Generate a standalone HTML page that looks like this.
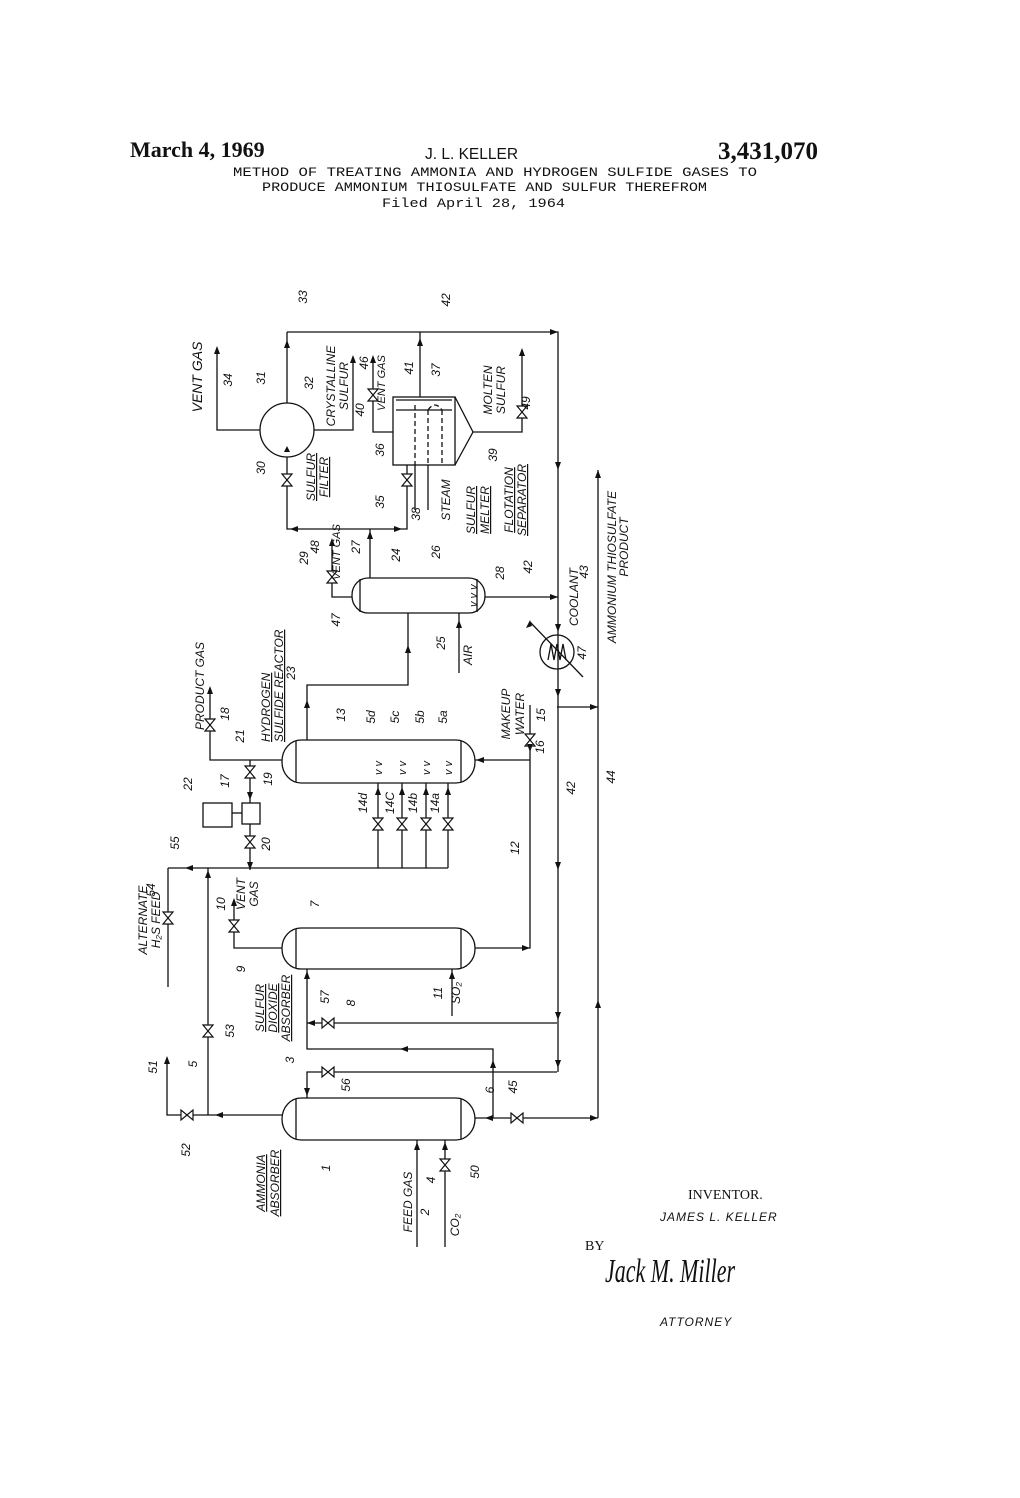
<!DOCTYPE html>
<html><head><meta charset="utf-8">
<style>
html,body{margin:0;padding:0;background:#fff;}
svg{display:block;}
.l{font-family:"Liberation Sans",sans-serif;font-style:italic;font-size:12px;fill:#111;}
.s{font-family:"Liberation Sans",sans-serif;font-style:italic;font-size:11px;fill:#111;}
.b{font-family:"Liberation Sans",sans-serif;font-style:italic;font-size:14px;fill:#111;}
.m{font-family:"Liberation Mono",monospace;font-size:12.5px;fill:#111;}
</style></head>
<body>
<svg width="1020" height="1498" viewBox="0 0 1020 1498" xmlns="http://www.w3.org/2000/svg">
<rect width="1020" height="1498" fill="#fff"/>
<text x="130" y="157" font-family="Liberation Serif,serif" font-weight="bold" font-size="22" fill="#111">March 4, 1969</text>
<text x="425" y="159" font-family="Liberation Sans,sans-serif" font-size="15.5" fill="#111">J. L. KELLER</text>
<text x="818" y="159" text-anchor="end" font-family="Liberation Serif,serif" font-weight="bold" font-size="25" fill="#111">3,431,070</text>
<text class="m" x="233" y="176" textLength="524" lengthAdjust="spacingAndGlyphs">METHOD OF TREATING AMMONIA AND HYDROGEN SULFIDE GASES TO</text>
<text class="m" x="262" y="191" textLength="445" lengthAdjust="spacingAndGlyphs">PRODUCE AMMONIUM THIOSULFATE AND SULFUR THEREFROM</text>
<text class="m" x="382" y="207" textLength="183" lengthAdjust="spacingAndGlyphs">Filed April 28, 1964</text>

<g fill="none" stroke="#111" stroke-width="1.3">
<path d="M287 332 H558 V1072"/>
<circle cx="287" cy="430" r="27"/>
<path d="M217 348 V430 H260"/>
<path d="M287 403 V332"/>
<path d="M287 457 V529 H407 V465"/>
<path d="M370 578 V529"/>
<path d="M314 430 H353 V357"/>
<rect x="393" y="397" width="62" height="68"/>
<path d="M455 397 L473 432 L455 465"/>
<path d="M393 432 H373 V357"/>
<path d="M420 397 V332"/>
<path d="M473 432 H522 V350"/>
<path d="M415 465 V510 M428 465 V510"/>
<path d="M415 405 V465 M428 410 V465 M442 410 V465 M428 410 Q435 400 442 410" stroke-dasharray="5 3"/>
<path d="M396 400 H452 M396 410 H452"/>
<rect x="352" y="578" width="133" height="35" rx="16" ry="17"/>
<path d="M360 579 V612 M477 579 V612"/>
<path d="M352 597 H332 V540"/>
<path d="M459 673 V613"/>
<path d="M485 597 H558"/>
<path d="M408 613 V685 H307 V740"/>
<circle cx="557" cy="652" r="17"/>
<path d="M530 622 L583 677"/>
<path d="M548 660 L551 644 L554 660 L557 644 L560 660 L563 644 L566 660"/>
<path d="M557 707 H598"/>
<path d="M598 1118 V470"/>
<path d="M475 1118 H598"/>
<rect x="282" y="740" width="193" height="43" rx="19" ry="21"/>
<path d="M296 741 V782 M461 741 V782"/>
<path d="M282 760 H210 V688"/>
<path d="M250 760 V803 M250 824 V870"/>
<rect x="242" y="803" width="18" height="21"/>
<rect x="203" y="803" width="29" height="24"/>
<path d="M232 813 H242"/>
<path d="M168 868 H448 M378 868 V783 M402 868 V783 M426 868 V783 M448 868 V783"/>
<path d="M168 868 V987"/>
<path d="M208 868 V1115"/>
<path d="M167 1058 V1115 H282"/>
<rect x="282" y="928" width="193" height="41" rx="19" ry="20"/>
<path d="M296 929 V968 M461 929 V968"/>
<path d="M282 948 H234 V900"/>
<path d="M475 948 H530 V705 M530 760 H475"/>
<path d="M452 1016 V969"/>
<path d="M557 1023 H307 M307 969 V1049 H493 V1118"/>
<path d="M557 1072 H307 V1098"/>
<rect x="282" y="1098" width="193" height="42" rx="19" ry="21"/>
<path d="M296 1099 V1139 M461 1099 V1139"/>
<path d="M417 1140 V1247 M445 1140 V1247"/>
</g>

<g fill="#fff" stroke="#111" stroke-width="1.2">
<path d="M282 474 H292 L282 486 H292 Z"/>
<path d="M402 474 H412 L402 486 H412 Z"/>
<path d="M368 389 H378 L368 401 H378 Z"/>
<path d="M517 406 H527 L517 418 H527 Z"/>
<path d="M327 571 H337 L327 583 H337 Z"/>
<path d="M205 719 H215 L205 731 H215 Z"/>
<path d="M245 766 H255 L245 778 H255 Z"/>
<path d="M245 836 H255 L245 848 H255 Z"/>
<path d="M373 818 H383 L373 830 H383 Z"/>
<path d="M397 818 H407 L397 830 H407 Z"/>
<path d="M421 818 H431 L421 830 H431 Z"/>
<path d="M443 818 H453 L443 830 H453 Z"/>
<path d="M525 734 H535 L525 746 H535 Z"/>
<path d="M229 920 H239 L229 932 H239 Z"/>
<path d="M163 912 H173 L163 924 H173 Z"/>
<path d="M203 1025 H213 L203 1037 H213 Z"/>
<path d="M440 1159 H450 L440 1171 H450 Z"/>
<path d="M322 1018 V1028 L334 1018 V1028 Z"/>
<path d="M322 1067 V1077 L334 1067 V1077 Z"/>
<path d="M511 1113 V1123 L523 1113 V1123 Z"/>
<path d="M181 1110 V1120 L193 1110 V1120 Z"/>
</g>

<g fill="#111">
<path d="M558 332 l-8 -3 v6 z"/>
<path d="M217 346 l-3 8 h6 z"/>
<path d="M287 340 l-3 8 h6 z"/>
<path d="M353 355 l-3 8 h6 z"/>
<path d="M373 355 l-3 8 h6 z"/>
<path d="M420 338 l-3 8 h6 z"/>
<path d="M522 348 l-3 8 h6 z"/>
<path d="M370 531 l-3 8 h6 z"/>
<path d="M287 446 l-3 6 h6 z"/>
<path d="M290 529 l8 -3 v6 z"/>
<path d="M402 529 l-8 -3 v6 z"/>
<path d="M332 538 l-3 8 h6 z"/>
<path d="M459 620 l-3 8 h6 z"/>
<path d="M408 645 l-3 8 h6 z"/>
<path d="M307 700 l-3 8 h6 z"/>
<path d="M558 597 l-8 -3 v6 z"/>
<path d="M558 470 l-3 -8 h6 z"/>
<path d="M558 632 l-3 -8 h6 z"/>
<path d="M558 697 l-3 -8 h6 z"/>
<path d="M558 870 l-3 -8 h6 z"/>
<path d="M558 1020 l-3 -8 h6 z"/>
<path d="M558 1068 l-3 -8 h6 z"/>
<path d="M530 620 l-4 8 l6 -2 z"/>
<path d="M598 707 l-8 -3 v6 z"/>
<path d="M598 470 l-3 8 h6 z"/>
<path d="M598 1000 l-3 8 h6 z"/>
<path d="M210 686 l-3 8 h6 z"/>
<path d="M250 800 l-3 -8 h6 z"/>
<path d="M250 870 l-3 -8 h6 z"/>
<path d="M378 787 l-3 8 h6 z"/>
<path d="M402 787 l-3 8 h6 z"/>
<path d="M426 787 l-3 8 h6 z"/>
<path d="M448 787 l-3 8 h6 z"/>
<path d="M208 870 l-3 8 h6 z"/>
<path d="M185 868 l8 -3 v6 z"/>
<path d="M167 1056 l-3 8 h6 z"/>
<path d="M215 1115 l8 -3 v6 z"/>
<path d="M234 898 l-3 8 h6 z"/>
<path d="M530 948 l-8 -3 v6 z"/>
<path d="M476 760 l8 -3 v6 z"/>
<path d="M530 752 l-3 -8 h6 z"/>
<path d="M452 971 l-3 8 h6 z"/>
<path d="M307 1023 l8 -3 v6 z"/>
<path d="M307 971 l-3 8 h6 z"/>
<path d="M400 1049 l8 -3 v6 z"/>
<path d="M493 1060 l-3 8 h6 z"/>
<path d="M307 1096 l-3 -8 h6 z"/>
<path d="M417 1142 l-3 8 h6 z"/>
<path d="M445 1142 l-3 8 h6 z"/>
<path d="M485 1118 l8 -3 v6 z"/>
<path d="M598 1118 l-8 -3 v6 z"/>
</g>

<g class="l">
<text transform="translate(202,377) rotate(-90)" text-anchor="middle" class="b">VENT GAS</text>
<text transform="translate(232,380) rotate(-90)" text-anchor="middle">34</text>
<text transform="translate(265,378) rotate(-90)" text-anchor="middle">31</text>
<text transform="translate(307,297) rotate(-90)" text-anchor="middle">33</text>
<text transform="translate(450,300) rotate(-90)" text-anchor="middle">42</text>
<text transform="translate(313,383) rotate(-90)" text-anchor="middle">32</text>
<text transform="translate(335,386) rotate(-90)" text-anchor="middle">CRYSTALLINE</text>
<text transform="translate(348,386) rotate(-90)" text-anchor="middle">SULFUR</text>
<text transform="translate(364,410) rotate(-90)" text-anchor="middle">40</text>
<text transform="translate(368,363) rotate(-90)" text-anchor="middle">46</text>
<text transform="translate(385,383) rotate(-90)" text-anchor="middle" class="s">VENT GAS</text>
<text transform="translate(413,368) rotate(-90)" text-anchor="middle">41</text>
<text transform="translate(440,370) rotate(-90)" text-anchor="middle">37</text>
<text transform="translate(492,390) rotate(-90)" text-anchor="middle">MOLTEN</text>
<text transform="translate(505,390) rotate(-90)" text-anchor="middle">SULFUR</text>
<text transform="translate(530,403) rotate(-90)" text-anchor="middle">49</text>
<text transform="translate(265,468) rotate(-90)" text-anchor="middle">30</text>
<text transform="translate(315,477) rotate(-90)" text-anchor="middle" text-decoration="underline">SULFUR</text>
<text transform="translate(328,477) rotate(-90)" text-anchor="middle" text-decoration="underline">FILTER</text>
<text transform="translate(384,450) rotate(-90)" text-anchor="middle">36</text>
<text transform="translate(384,502) rotate(-90)" text-anchor="middle">35</text>
<text transform="translate(420,514) rotate(-90)" text-anchor="middle">38</text>
<text transform="translate(450,500) rotate(-90)" text-anchor="middle">STEAM</text>
<text transform="translate(475,510) rotate(-90)" text-anchor="middle" text-decoration="underline">SULFUR</text>
<text transform="translate(489,510) rotate(-90)" text-anchor="middle" text-decoration="underline">MELTER</text>
<text transform="translate(497,455) rotate(-90)" text-anchor="middle">39</text>
<text transform="translate(513,500) rotate(-90)" text-anchor="middle" text-decoration="underline">FLOTATION</text>
<text transform="translate(526,500) rotate(-90)" text-anchor="middle" text-decoration="underline">SEPARATOR</text>
<text transform="translate(308,558) rotate(-90)" text-anchor="middle">29</text>
<text transform="translate(319,547) rotate(-90)" text-anchor="middle">48</text>
<text transform="translate(340,552) rotate(-90)" text-anchor="middle" class="s">VENT GAS</text>
<text transform="translate(360,547) rotate(-90)" text-anchor="middle">27</text>
<text transform="translate(400,555) rotate(-90)" text-anchor="middle">24</text>
<text transform="translate(440,552) rotate(-90)" text-anchor="middle">26</text>
<text transform="translate(504,573) rotate(-90)" text-anchor="middle">28</text>
<text transform="translate(532,567) rotate(-90)" text-anchor="middle">42</text>
<text transform="translate(578,597) rotate(-90)" text-anchor="middle">COOLANT</text>
<text transform="translate(588,572) rotate(-90)" text-anchor="middle">43</text>
<text transform="translate(586,653) rotate(-90)" text-anchor="middle">47</text>
<text transform="translate(616,567) rotate(-90)" text-anchor="middle">AMMONIUM THIOSULFATE</text>
<text transform="translate(628,547) rotate(-90)" text-anchor="middle">PRODUCT</text>
<text transform="translate(340,620) rotate(-90)" text-anchor="middle">47</text>
<text transform="translate(445,643) rotate(-90)" text-anchor="middle">25</text>
<text transform="translate(472,655) rotate(-90)" text-anchor="middle">AIR</text>
<text transform="translate(295,673) rotate(-90)" text-anchor="middle">23</text>
<text transform="translate(270,742) rotate(-90)" text-decoration="underline">HYDROGEN</text>
<text transform="translate(283,742) rotate(-90)" text-decoration="underline">SULFIDE REACTOR</text>
<text transform="translate(204,730) rotate(-90)">PRODUCT GAS</text>
<text transform="translate(229,714) rotate(-90)" text-anchor="middle">18</text>
<text transform="translate(244,736) rotate(-90)" text-anchor="middle">21</text>
<text transform="translate(229,781) rotate(-90)" text-anchor="middle">17</text>
<text transform="translate(272,779) rotate(-90)" text-anchor="middle">19</text>
<text transform="translate(192,784) rotate(-90)" text-anchor="middle">22</text>
<text transform="translate(270,844) rotate(-90)" text-anchor="middle">20</text>
<text transform="translate(345,715) rotate(-90)" text-anchor="middle">13</text>
<text transform="translate(375,717) rotate(-90)" text-anchor="middle">5d</text>
<text transform="translate(399,717) rotate(-90)" text-anchor="middle">5c</text>
<text transform="translate(424,717) rotate(-90)" text-anchor="middle">5b</text>
<text transform="translate(447,717) rotate(-90)" text-anchor="middle">5a</text>
<text transform="translate(367,803) rotate(-90)" text-anchor="middle">14d</text>
<text transform="translate(394,803) rotate(-90)" text-anchor="middle">14C</text>
<text transform="translate(417,803) rotate(-90)" text-anchor="middle">14b</text>
<text transform="translate(439,803) rotate(-90)" text-anchor="middle">14a</text>
<text transform="translate(510,714) rotate(-90)" text-anchor="middle">MAKEUP</text>
<text transform="translate(524,714) rotate(-90)" text-anchor="middle">WATER</text>
<text transform="translate(545,715) rotate(-90)" text-anchor="middle">15</text>
<text transform="translate(544,747) rotate(-90)" text-anchor="middle">16</text>
<text transform="translate(575,788) rotate(-90)" text-anchor="middle">42</text>
<text transform="translate(615,777) rotate(-90)" text-anchor="middle">44</text>
<text transform="translate(519,848) rotate(-90)" text-anchor="middle">12</text>
<text transform="translate(225,904) rotate(-90)" text-anchor="middle">10</text>
<text transform="translate(245,894) rotate(-90)" text-anchor="middle">VENT</text>
<text transform="translate(258,894) rotate(-90)" text-anchor="middle">GAS</text>
<text transform="translate(245,969) rotate(-90)" text-anchor="middle">9</text>
<text transform="translate(319,904) rotate(-90)" text-anchor="middle">7</text>
<text transform="translate(264,1008) rotate(-90)" text-anchor="middle" text-decoration="underline">SULFUR</text>
<text transform="translate(277,1008) rotate(-90)" text-anchor="middle" text-decoration="underline">DIOXIDE</text>
<text transform="translate(290,1008) rotate(-90)" text-anchor="middle" text-decoration="underline">ABSORBER</text>
<text transform="translate(329,997) rotate(-90)" text-anchor="middle">57</text>
<text transform="translate(355,1003) rotate(-90)" text-anchor="middle">8</text>
<text transform="translate(442,993) rotate(-90)" text-anchor="middle">11</text>
<text transform="translate(460,993) rotate(-90)" text-anchor="middle">SO₂</text>
<text transform="translate(197,1064) rotate(-90)" text-anchor="middle">5</text>
<text transform="translate(234,1031) rotate(-90)" text-anchor="middle">53</text>
<text transform="translate(294,1060) rotate(-90)" text-anchor="middle">3</text>
<text transform="translate(350,1085) rotate(-90)" text-anchor="middle">56</text>
<text transform="translate(494,1090) rotate(-90)" text-anchor="middle">6</text>
<text transform="translate(517,1087) rotate(-90)" text-anchor="middle">45</text>
<text transform="translate(190,1150) rotate(-90)" text-anchor="middle">52</text>
<text transform="translate(265,1183) rotate(-90)" text-anchor="middle" text-decoration="underline">AMMONIA</text>
<text transform="translate(279,1183) rotate(-90)" text-anchor="middle" text-decoration="underline">ABSORBER</text>
<text transform="translate(330,1168) rotate(-90)" text-anchor="middle">1</text>
<text transform="translate(412,1202) rotate(-90)" text-anchor="middle">FEED GAS</text>
<text transform="translate(429,1212) rotate(-90)" text-anchor="middle">2</text>
<text transform="translate(435,1180) rotate(-90)" text-anchor="middle">4</text>
<text transform="translate(459,1225) rotate(-90)" text-anchor="middle">CO₂</text>
<text transform="translate(479,1172) rotate(-90)" text-anchor="middle">50</text>
<text transform="translate(157,1067) rotate(-90)" text-anchor="middle">51</text>
<text transform="translate(155,890) rotate(-90)" text-anchor="middle">54</text>
<text transform="translate(147,920) rotate(-90)" text-anchor="middle">ALTERNATE</text>
<text transform="translate(160,920) rotate(-90)" text-anchor="middle">H₂S FEED</text>
<text transform="translate(179,843) rotate(-90)" text-anchor="middle">55</text>
</g>
<g class="s">
<text transform="translate(382,775) rotate(-90)">v v</text>
<text transform="translate(406,775) rotate(-90)">v v</text>
<text transform="translate(430,775) rotate(-90)">v v</text>
<text transform="translate(452,775) rotate(-90)">v v</text>
<text transform="translate(477,607) rotate(-90)">v v v</text>
</g>

<text x="688" y="1199" font-family="Liberation Serif,serif" font-size="14" fill="#111">INVENTOR.</text>
<text x="660" y="1221" font-family="Liberation Sans,sans-serif" font-style="italic" font-size="12" fill="#111" letter-spacing="1">JAMES L. KELLER</text>
<text x="585" y="1250" font-family="Liberation Serif,serif" font-size="14" fill="#111">BY</text>
<text x="605" y="1282" font-family="Liberation Serif,serif" font-style="italic" font-size="34" fill="#111" textLength="130" lengthAdjust="spacingAndGlyphs">Jack M. Miller</text>
<text x="660" y="1326" font-family="Liberation Sans,sans-serif" font-style="italic" font-size="12" fill="#111" letter-spacing="1">ATTORNEY</text>
</svg>
</body></html>
